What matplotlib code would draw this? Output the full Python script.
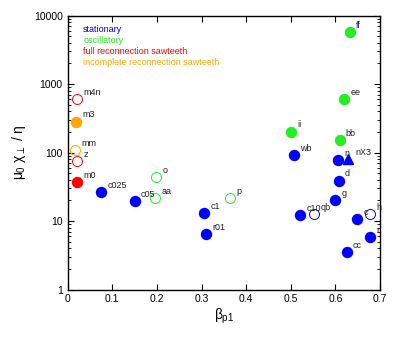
import matplotlib
matplotlib.use('Agg')
import matplotlib.pyplot as plt
import matplotlib.ticker as ticker

plt.rcParams['font.family'] = ['Liberation Sans', 'DejaVu Sans']
plt.rcParams['mathtext.fontset'] = 'custom'
plt.rcParams['mathtext.rm'] = 'Liberation Sans'
plt.rcParams['mathtext.it'] = 'Liberation Sans'
plt.rcParams['mathtext.bf'] = 'Liberation Sans'

# case name, beta_p1, mu0*chi_perp/eta, category, filled?
names = ['c025', 'c05', 'c1', 'r01', 'wb', 'n', 'd', 'g', 'c10', 'qb', 'c', 'h', 'r', 'cc',
         'o', 'aa', 'p', 'ii', 'ff', 'ee', 'bb',
         'm4n', 'z', 'm0',
         'm3', 'mm']
beta = [0.075, 0.150, 0.306, 0.310, 0.506, 0.606, 0.607, 0.599, 0.521, 0.552, 0.648, 0.677, 0.678, 0.625,
        0.198, 0.196, 0.364, 0.500, 0.632, 0.619, 0.609,
        0.021, 0.021, 0.021,
        0.019, 0.017]
chi = [26.6, 19.6, 13.0, 6.5, 92, 77, 38.9, 20.1, 12.1, 12.7, 10.7, 12.6, 5.9, 3.5,
       43.6, 21.9, 21.7, 202, 5720, 607, 153,
       600, 75, 37,
       283, 109]
cat = ['s'] * 14 + ['o'] * 7 + ['f'] * 3 + ['i'] * 2
filled = [1, 1, 1, 1, 1, 1, 1, 1, 1, 0, 1, 0, 1, 1,
          0, 0, 0, 1, 1, 1, 1,
          0, 0, 1,
          1, 0]

# triangle point
tri_name, tri_beta, tri_chi = 'nX3', 0.628, 80

colors = {'s': '#0000ff', 'o': '#22ee22', 'f': '#ff0000', 'i': '#ffa500'}
legend_txt = [('stationary', 's'), ('oscillatory', 'o'),
              ('full reconnection sawteeth', 'f'),
              ('incomplete reconnection sawteeth', 'i')]

fig = plt.figure(figsize=(4.07, 3.39), dpi=100)
ax = fig.add_axes([0.166, 0.146, 0.768, 0.808])

for i in range(len(names)):
    c = colors[cat[i]]
    if filled[i]:
        ax.plot(beta[i], chi[i], 'o', ms=7.2, color=c, mec=c)
    else:
        ax.plot(beta[i], chi[i], 'o', ms=7.2, mfc='none', mec=c, mew=0.7)
    ax.annotate(names[i], (beta[i], chi[i]), xytext=(4.5, 3), textcoords='offset points',
                fontsize=6.5, color='#222222')

ax.plot(tri_beta, tri_chi, '^', ms=7, color=colors['s'])
ax.annotate(tri_name, (tri_beta, tri_chi), xytext=(5, 3), textcoords='offset points',
            fontsize=6.5, color='#222222')

for k, (t, c) in enumerate(legend_txt):
    ax.text(0.05, 0.965 - k * 0.04, t, transform=ax.transAxes, color=colors[c],
            fontsize=6.5, va='top')

ax.set_yscale('log')
ax.set_xlim(0, 0.7)
ax.set_ylim(1, 10000)
ax.xaxis.set_major_locator(ticker.MultipleLocator(0.1))
ax.xaxis.set_major_formatter(ticker.FormatStrFormatter('%g'))
ax.yaxis.set_major_formatter(ticker.FuncFormatter(lambda v, p: '%d' % v))
ax.yaxis.set_minor_locator(ticker.LogLocator(base=10, subs=range(2, 10)))
ax.yaxis.set_minor_formatter(ticker.NullFormatter())
ax.tick_params(which='both', direction='in', top=True, right=True, labelsize=7.5)
ax.tick_params(which='major', length=4, width=0.8)
ax.tick_params(which='minor', length=2, width=0.6)
for s in ax.spines.values():
    s.set_linewidth(1.0)

ax.set_xlabel(r'$\beta_{p1}$', fontsize=10, labelpad=2)
ax.set_ylabel(r'$\mu_0\ \chi_\perp\ /\ \eta$', fontsize=10, labelpad=4)

fig.savefig('out.png', dpi=100)
